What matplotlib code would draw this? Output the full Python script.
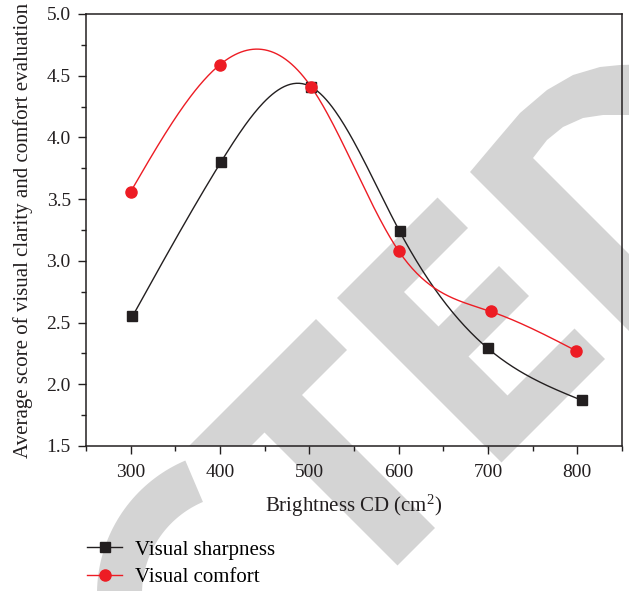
import numpy as np
import matplotlib
matplotlib.use("Agg")
import matplotlib.pyplot as plt
from matplotlib.patches import Polygon
from matplotlib.lines import Line2D

plt.rcParams['font.family'] = ['Liberation Serif', 'DejaVu Serif']
plt.rcParams['mathtext.fontset'] = 'custom'
plt.rcParams['mathtext.rm'] = 'Liberation Serif'
plt.rcParams['mathtext.it'] = 'Liberation Serif:italic'

# scores per brightness level
sharp_x = [302, 401, 502, 601, 700, 805]
sharp_y = [2.55, 3.80, 4.41, 3.24, 2.29, 1.87]
comfort_x = [300, 400, 502, 600, 703, 799]
comfort_y = [3.56, 4.59, 4.41, 3.08, 2.59, 2.27]

x_ticks = [300, 400, 500, 600, 700, 800]
y_ticks = [1.5, 2.0, 2.5, 3.0, 3.5, 4.0, 4.5, 5.0]

BLACK = '#231f20'
RED = '#ed1c24'
GREY = '#d4d4d4'
W, H = 629, 591


def natural_spline(x, y, n=300):
    x = np.asarray(x, float)
    y = np.asarray(y, float)
    k = len(x)
    h = np.diff(x)
    A = np.zeros((k, k))
    r = np.zeros(k)
    A[0, 0] = A[-1, -1] = 1
    for i in range(1, k - 1):
        A[i, i - 1] = h[i - 1]
        A[i, i] = 2 * (h[i - 1] + h[i])
        A[i, i + 1] = h[i]
        r[i] = 6 * ((y[i + 1] - y[i]) / h[i] - (y[i] - y[i - 1]) / h[i - 1])
    m = np.linalg.solve(A, r)
    xs = np.linspace(x[0], x[-1], n)
    idx = np.clip(np.searchsorted(x, xs) - 1, 0, k - 2)
    x0, x1 = x[idx], x[idx + 1]
    hh = x1 - x0
    t0, t1 = x1 - xs, xs - x0
    ys = ((m[idx] * t0 ** 3 + m[idx + 1] * t1 ** 3) / (6 * hh)
          + (y[idx] / hh - m[idx] * hh / 6) * t0
          + (y[idx + 1] / hh - m[idx + 1] * hh / 6) * t1)
    return xs, ys


def to_fig(pts):
    return [(px / W, 1 - py / H) for px, py in pts]


fig = plt.figure(figsize=(6.29, 5.91), dpi=100)
ax = fig.add_axes([86 / W, 1 - 446 / H, 536 / W, 432 / H])
ax.patch.set_visible(False)

# grey stamp behind the plot
ang = np.radians(np.linspace(-113, -215, 60))
cx, cy = 242, 594
arc = [(cx + 145 * np.cos(a), cy + 145 * np.sin(a)) for a in ang]
arc += [(cx + 100 * np.cos(a), cy + 100 * np.sin(a)) for a in ang[::-1]]
letter_t = [(189, 446), (316, 319), (347, 350), (302, 395), (435, 528),
            (397.5, 565.5), (264.5, 432.5), (251, 446)]
letter_e = [(337, 298), (437.5, 197.5), (468, 228), (404, 292), (438.5, 326.5),
            (499, 266), (529, 296), (468.5, 356.5), (507.5, 395.5),
            (574.5, 328.5), (605, 359), (501.5, 462.5)]
letter_d = [(470, 172), (497, 140), (520, 113), (547, 90), (573, 75), (600, 67),
            (620, 65), (700, 63), (700, 115), (620, 115), (603, 115), (583, 118),
            (563, 127), (547, 140), (533, 158), (740, 365), (740, 442)]
for shape in (arc, letter_t, letter_e, letter_d):
    fig.add_artist(Polygon(to_fig(shape), closed=True, facecolor=GREY,
                           edgecolor='none', transform=fig.transFigure, zorder=-1))

sx, sy = natural_spline(sharp_x, sharp_y)
cxs, cys = natural_spline(comfort_x, comfort_y)
ax.plot(sx, sy, color=BLACK, lw=1.0, zorder=3)
ax.plot(cxs, cys, color=RED, lw=1.0, zorder=3)
ax.plot(sharp_x, sharp_y, ls='none', marker='s', ms=7.2, color=BLACK, zorder=4)
ax.plot(comfort_x, comfort_y, ls='none', marker='o', ms=8, color=RED, zorder=5)

ax.set_xlim(250, 850)
ax.set_ylim(1.5, 5.0)
ax.set_xticks(x_ticks)
ax.set_yticks(y_ticks)
ax.set_xticks([250, 350, 450, 550, 650, 750, 850], minor=True)
ax.set_yticks(np.arange(1.75, 5.0, 0.5), minor=True)
ax.set_yticklabels([f'{v:.1f}' for v in y_ticks])
ax.tick_params(which='both', direction='out', top=False, right=False,
               colors=BLACK, labelsize=14, width=1.0)
ax.tick_params(which='major', length=6, pad=5)
ax.tick_params(axis='x', which='major', pad=7)
ax.tick_params(which='minor', length=3.5)
for sp in ax.spines.values():
    sp.set_linewidth(1.1)
    sp.set_color(BLACK)

ax.set_xlabel('Brightness CD (cm$^2$)', fontsize=15, color=BLACK)
ax.set_ylabel('Average score of visual clarity and comfort evaluation',
              fontsize=15, color=BLACK)
ax.xaxis.set_label_coords(0.5, (446 - 493) / 432)
ax.yaxis.set_label_coords((33 - 86) / 536, 0.5)

handles = [
    Line2D([], [], color=BLACK, lw=1.0, marker='s', ms=7.2),
    Line2D([], [], color=RED, lw=1.0, marker='o', ms=8),
]
fig.legend(handles, ['Visual sharpness', 'Visual comfort'],
           loc='upper left', bbox_to_anchor=(87 / W, 1 - 540 / H),
           frameon=False, fontsize=15, handlelength=1.7, handletextpad=0.62,
           labelspacing=0.38, borderaxespad=0, borderpad=0)

fig.savefig('out.png', dpi=100)
